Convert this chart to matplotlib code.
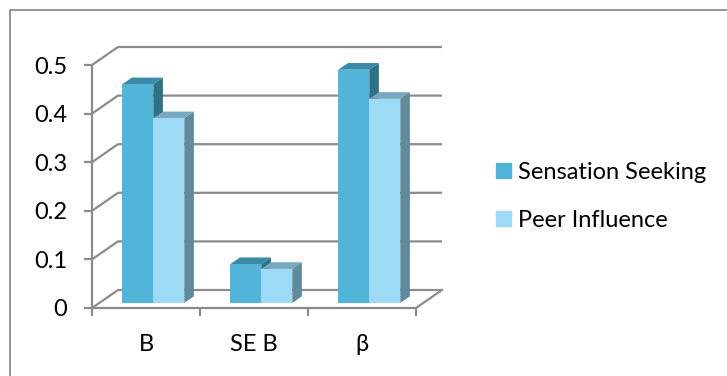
import numpy as np
import matplotlib
matplotlib.use("Agg")
from matplotlib import pyplot as plt
from matplotlib.patches import Polygon, Patch
from matplotlib.lines import Line2D

# Values shown on the chart
categories = ["B", "SE B", "\u03b2"]
series_names = ["Sensation Seeking", "Peer Influence"]
sensation = [0.45, 0.08, 0.48]
peer = [0.38, 0.07, 0.42]
yticks = [0, 0.1, 0.2, 0.3, 0.4, 0.5]

# Face colours: front, top, side
colors = {
    "Sensation Seeking": ("#52b4d9", "#3a8aa8", "#2f7286"),
    "Peer Influence":    ("#9cdaf6", "#76a8bf", "#5f8b9d"),
}
GRID = "#8c8c8c"
FS = 17

W, H = 727, 376
plt.rcParams["font.family"] = ["Lato", "DejaVu Sans"]
fig = plt.figure(figsize=(W / 100, H / 100), dpi=100)

# front plane of the 3D box, in pixels
left, right, y0, y5 = 92, 416, 308, 65
ax = fig.add_axes([left / W, (H - y0) / H, (right - left) / W, (y0 - y5) / H])
ax.set_xlim(-0.5, 2.5)
ax.set_ylim(0, 0.5)

# perspective offset of the back wall in data units
DX = 26 / ((right - left) / 3)
DY = 18 / ((y0 - y5) / 0.5)
bar_front = 0.28      # depth fraction where bars start
bar_depth = 0.37      # depth fraction the bars occupy
bw = 0.287            # bar width

# walls: diagonal + back gridline for each tick
for v in yticks:
    ax.plot([-0.5, -0.5 + DX, 2.5 + DX], [v, v + DY, v + DY],
            color=GRID, lw=1.6, clip_on=False, zorder=1, solid_capstyle="butt")
ax.plot([2.5, 2.5 + DX], [0, DY], color=GRID, lw=1.6, clip_on=False, zorder=1)

x = np.arange(len(categories))
ox, oy = bar_front * DX, bar_front * DY
dx, dy = bar_depth * DX, bar_depth * DY
for i, (name, vals) in enumerate([(series_names[0], sensation), (series_names[1], peer)]):
    front, top, side = colors[name]
    xs = x - bw + i * bw + ox
    z = 3 + i * 3
    for x0, v in zip(xs, vals):
        t = oy + v
        ax.add_patch(Polygon([(x0, t), (x0 + bw, t), (x0 + bw + dx, t + dy), (x0 + dx, t + dy)],
                             closed=True, fc=top, ec="none", clip_on=False, zorder=z))
        ax.add_patch(Polygon([(x0 + bw, oy), (x0 + bw, t), (x0 + bw + dx, t + dy), (x0 + bw + dx, oy + dy)],
                             closed=True, fc=side, ec="none", clip_on=False, zorder=z))
    ax.bar(xs, vals, bw, bottom=oy, align="edge", color=front, zorder=z + 1, clip_on=False)

# axes lines and ticks
for s in ["top", "right"]:
    ax.spines[s].set_visible(False)
for s in ["left", "bottom"]:
    ax.spines[s].set_color(GRID)
    ax.spines[s].set_linewidth(1.6)
    ax.spines[s].set_zorder(2)
ax.set_yticks(yticks)
ax.set_yticklabels(["0", "0.1", "0.2", "0.3", "0.4", "0.5"])
ax.set_xticks(x)
ax.set_xticklabels(categories)
ax.set_xticks([-0.5, 0.5, 1.5, 2.5], minor=True)
ax.tick_params(axis="x", which="major", length=0, pad=19, labelsize=FS)
ax.tick_params(axis="x", which="minor", length=6, width=1.6, color=GRID)
ax.tick_params(axis="y", length=6, width=1.6, color=GRID, pad=12, labelsize=FS)
ax.patch.set_visible(False)

handles = [Patch(color=colors[n][0]) for n in series_names]
fig.legend(handles, series_names, loc="center left",
           bbox_to_anchor=(496 / W, (H - 196.5) / H), frameon=False,
           fontsize=FS, handlelength=0.63, handleheight=0.63,
           handletextpad=0.3, labelspacing=1.15, borderpad=0, borderaxespad=0)

# chart border (right and bottom edges run off the image)
fig.add_artist(Line2D([9.5 / W, 9.5 / W, 1.01], [-0.01, 1 - 9.5 / H, 1 - 9.5 / H],
                      color="#8a8a8a", lw=1.3))

fig.savefig("out.png", dpi=100)
